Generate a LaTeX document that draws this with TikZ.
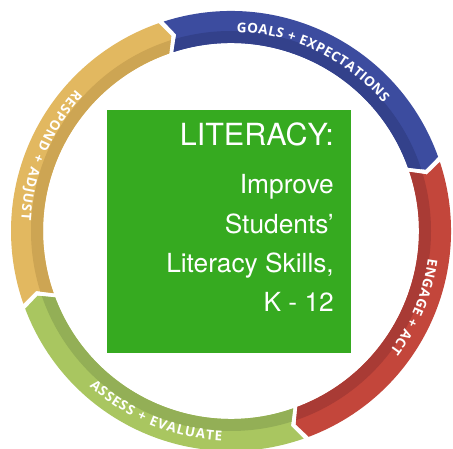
\documentclass[tikz,border=0pt]{standalone}
\usepackage{fontspec}
\setmainfont{TeX Gyre Heros}
\newfontfamily\ringfont{Open Sans}
\usetikzlibrary{decorations.text}
\definecolor{blueMain}{HTML}{3C4C9F}
\definecolor{blueDark}{HTML}{33418B}
\definecolor{redMain}{HTML}{C3463B}
\definecolor{redDark}{HTML}{A93B35}
\definecolor{greenMain}{HTML}{A9C660}
\definecolor{greenDark}{HTML}{93AF56}
\definecolor{yellowMain}{HTML}{E2B860}
\definecolor{yellowDark}{HTML}{CDA553}
\definecolor{boxGreen}{HTML}{36AA20}
\def\Ro{220}
\def\Ri{188}
\def\Rm{204}
\def\Rs{200}
\def\dd{2.2}
\newcommand\ringseg[4]{%
  \begin{scope}
    \clip (#1:\Ro) arc[start angle=#1,end angle=#2,radius=\Ro]
      -- ({#2-\dd}:\Rm) -- (#2:\Ri)
      arc[start angle=#2,end angle=#1,radius=\Ri]
      -- ({#1-\dd}:\Rm) -- cycle;
    \fill[#3] (0,0) circle[radius=\Ro+2];
    \fill[#4] (0,0) circle[radius=\Rs];
  \end{scope}}
\tikzset{
  ringlabel/.style={decorate,decoration={text along path,
      text format delimiters={|}{|},
      text align=fit to path, text color=white}},
  boxline/.style={anchor=base east, text=white, inner sep=0pt,
      font=\fontsize{26.3}{30}\selectfont}
}
\begin{document}
\begin{tikzpicture}[x=1pt,y=1pt]
  \useasboundingbox (0,0) rectangle (453,449);
  \fill[white] (0,0) rectangle (453,449);
  \begin{scope}[shift={(231,218)}]
    \ringseg{107.8}{19.7}{blueMain}{blueDark}
    \ringseg{18.3}{-69.3}{redMain}{redDark}
    \ringseg{-70.7}{-159.3}{greenMain}{greenDark}
    \ringseg{-160.7}{-250.8}{yellowMain}{yellowDark}
    \path[ringlabel,decoration={text={|\ringfont\bfseries\fontsize{13.5}{14}\selectfont|GOALS + EXPECTATIONS}}]
      (88.4:199) arc[start angle=88.4,end angle=40.1,radius=199];
    \path[ringlabel,decoration={text={|\ringfont\bfseries\fontsize{13.5}{14}\selectfont|ENGAGE + ACT}}]
      (-8:199) arc[start angle=-8,end angle=-37,radius=199];
    \path[ringlabel,decoration={text={|\ringfont\bfseries\fontsize{13.5}{14}\selectfont|ASSESS + EVALUATE}}]
      (227.6:210) arc[start angle=227.6,end angle=267.5,radius=210];
    \path[ringlabel,decoration={text={|\ringfont\bfseries\fontsize{13.5}{14}\selectfont|RESPOND + ADJUST}}]
      (137.6:210) arc[start angle=137.6,end angle=177,radius=210];
  \end{scope}
  \node[fill=boxGreen, minimum width=244pt, minimum height=243pt,
        inner sep=0pt, anchor=south west] (box) at (107,96) {};
  \node[boxline, font=\fontsize{30.5}{34}\selectfont] (title) at (334,303) {LITERACY:};
  \node[boxline] (l1) at (334,255.5) {Improve};
  \node[boxline] (l2) at (334,215.5) {Students’};
  \node[boxline] (l3) at (334,176.7) {Literacy Skills,};
  \node[boxline] (l4) at (334,137.3) {K - 12};
\end{tikzpicture}
\end{document}
